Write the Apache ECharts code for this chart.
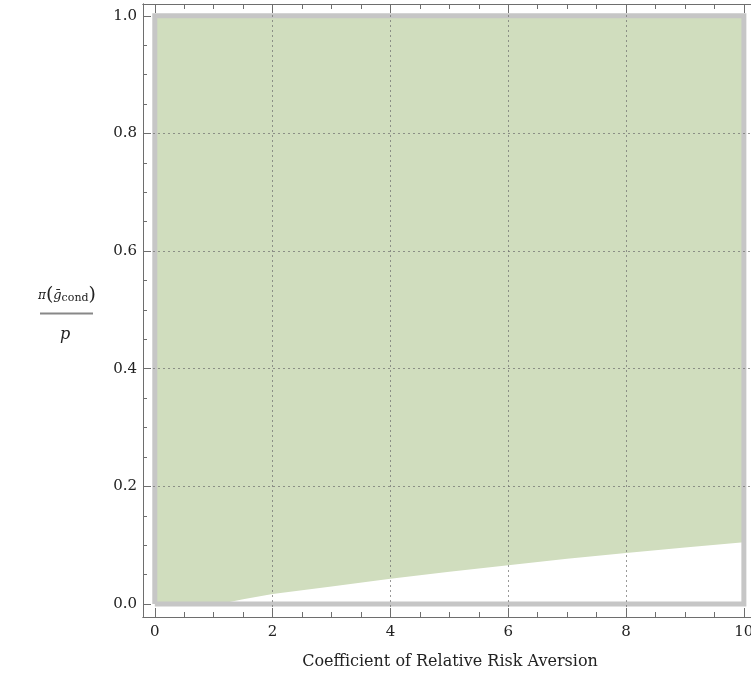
<!DOCTYPE html>
<html><head><meta charset="utf-8">
<script src="https://cdn.jsdelivr.net/npm/echarts@6/dist/echarts.min.js"></script>
<style>html,body{margin:0;padding:0;background:#fff}#c{width:751px;height:677px;overflow:hidden}</style>
</head><body><div id="c"></div>
<script>
// Data
const xVals = [0, 1.1, 1.5, 2, 3, 4, 5, 6, 7, 8, 9, 10];
const lowerBound = [0, 0, 0.008, 0.017, 0.030, 0.043, 0.055, 0.066, 0.077, 0.087, 0.096, 0.105];
const upperBound = 1;
const xMajorTicks = [0, 2, 4, 6, 8, 10];
const xMinorTicks = [0.5, 1, 1.5, 2.5, 3, 3.5, 4.5, 5, 5.5, 6.5, 7, 7.5, 8.5, 9, 9.5];
const yMajorTicks = [0, 0.2, 0.4, 0.6, 0.8, 1.0];
const yMinorTicks = [0.05, 0.1, 0.15, 0.25, 0.3, 0.35, 0.45, 0.5, 0.55, 0.65, 0.7, 0.75, 0.85, 0.9, 0.95];
const xGrid = [2, 4, 6, 8];
const yGrid = [0.2, 0.4, 0.6, 0.8];
const regionBox = [[0,0],[0,1],[10,1],[10,0],[0,0]];
const xTitle = 'Coefficient of Relative Risk Aversion';

const FONT = '"DejaVu Serif", "Liberation Serif", serif';
const AX = '#6e6e6e';
const XMIN = -0.2, XMAX = 10.155, YMIN = -0.022, YMAX = 1.02;

function xAx(pos, vals, len, labels) {
  return {
    type: 'value', position: pos, min: XMIN, max: XMAX, gridIndex: 0,
    axisLine: { show: true, onZero: false, lineStyle: { color: AX, width: 1 } },
    axisTick: { show: true, inside: true, length: len, customValues: vals, lineStyle: { color: AX } },
    axisLabel: labels ? { show: true, customValues: vals, fontFamily: FONT, fontSize: 15, color: '#222', margin: 8,
      formatter: v => String(Math.round(v)) } : { show: false },
    splitLine: { show: false }
  };
}
function yAx(pos, vals, len, labels) {
  return {
    type: 'value', position: pos, min: YMIN, max: YMAX, gridIndex: 0,
    axisLine: { show: true, onZero: false, lineStyle: { color: AX, width: 1 } },
    axisTick: { show: true, inside: true, length: len, customValues: vals, lineStyle: { color: AX } },
    axisLabel: labels ? { show: true, customValues: vals, fontFamily: FONT, fontSize: 15, color: '#222', margin: 6,
      formatter: v => v.toFixed(1) } : { show: false },
    splitLine: { show: false }
  };
}

const chart = echarts.init(document.getElementById('c'), null, { renderer: 'canvas' });
const gridLineStyle = { type: [2, 3], color: 'rgba(110,110,110,0.7)', width: 1 };

chart.setOption({
  animation: false,
  grid: { left: 143, top: 4, right: -2, bottom: 60, containLabel: false, outerBoundsMode: 'none' },
  xAxis: [xAx('bottom', xMajorTicks, 9, true), xAx('bottom', xMinorTicks, 5, false),
          xAx('top', xMajorTicks, 9, false), xAx('top', xMinorTicks, 5, false)],
  yAxis: [yAx('left', yMajorTicks, 8, true), yAx('left', yMinorTicks, 4, false)],
  series: [
    { type: 'custom', silent: true, z: 1,
      data: [0],
      renderItem: function (params, api) {
        const pts = [];
        pts.push(api.coord([xVals[0], upperBound]));
        pts.push(api.coord([xVals[xVals.length - 1], upperBound]));
        for (let i = xVals.length - 1; i >= 0; i--) pts.push(api.coord([xVals[i], lowerBound[i]]));
        return { type: 'polygon', shape: { points: pts }, style: { fill: '#d0ddbe', stroke: null } };
      } },
    { type: 'line', symbol: 'none', silent: true, data: regionBox,
      lineStyle: { color: '#c6c6c6', width: 5, join: 'miter' }, z: 3,
      markLine: { silent: true, symbol: 'none', label: { show: false }, lineStyle: gridLineStyle,
        data: xGrid.map(v => ({ xAxis: v })).concat(yGrid.map(v => ({ yAxis: v }))) } }
  ],
  graphic: [
    { type: 'text', x: 450, y: 654, z: 10,
      style: { text: xTitle, font: '16px ' + FONT, fill: '#222', textAlign: 'center' } },
    { type: 'text', x: 38, y: 286, z: 10,
      style: { rich: {
          pi: { fontFamily: FONT, fontSize: 12, fontStyle: 'italic', fill: '#222' },
          par: { fontFamily: FONT, fontSize: 19, fill: '#222' },
          g: { fontFamily: FONT, fontSize: 13, fontStyle: 'italic', fill: '#222' },
          sub: { fontFamily: FONT, fontSize: 11, fill: '#222', padding: [5, 0, 0, 0] }
        },
        text: '{pi|π}{par|(}{g|ḡ}{sub|cond}{par|)}' } },
    { type: 'line', z: 10, shape: { x1: 40, y1: 313.5, x2: 93, y2: 313.5 }, style: { stroke: '#888', lineWidth: 2 } },
    { type: 'text', x: 60, y: 327, z: 10,
      style: { text: 'p', font: 'italic 16px ' + FONT, fill: '#222' } }
  ]
});
</script></body></html>
